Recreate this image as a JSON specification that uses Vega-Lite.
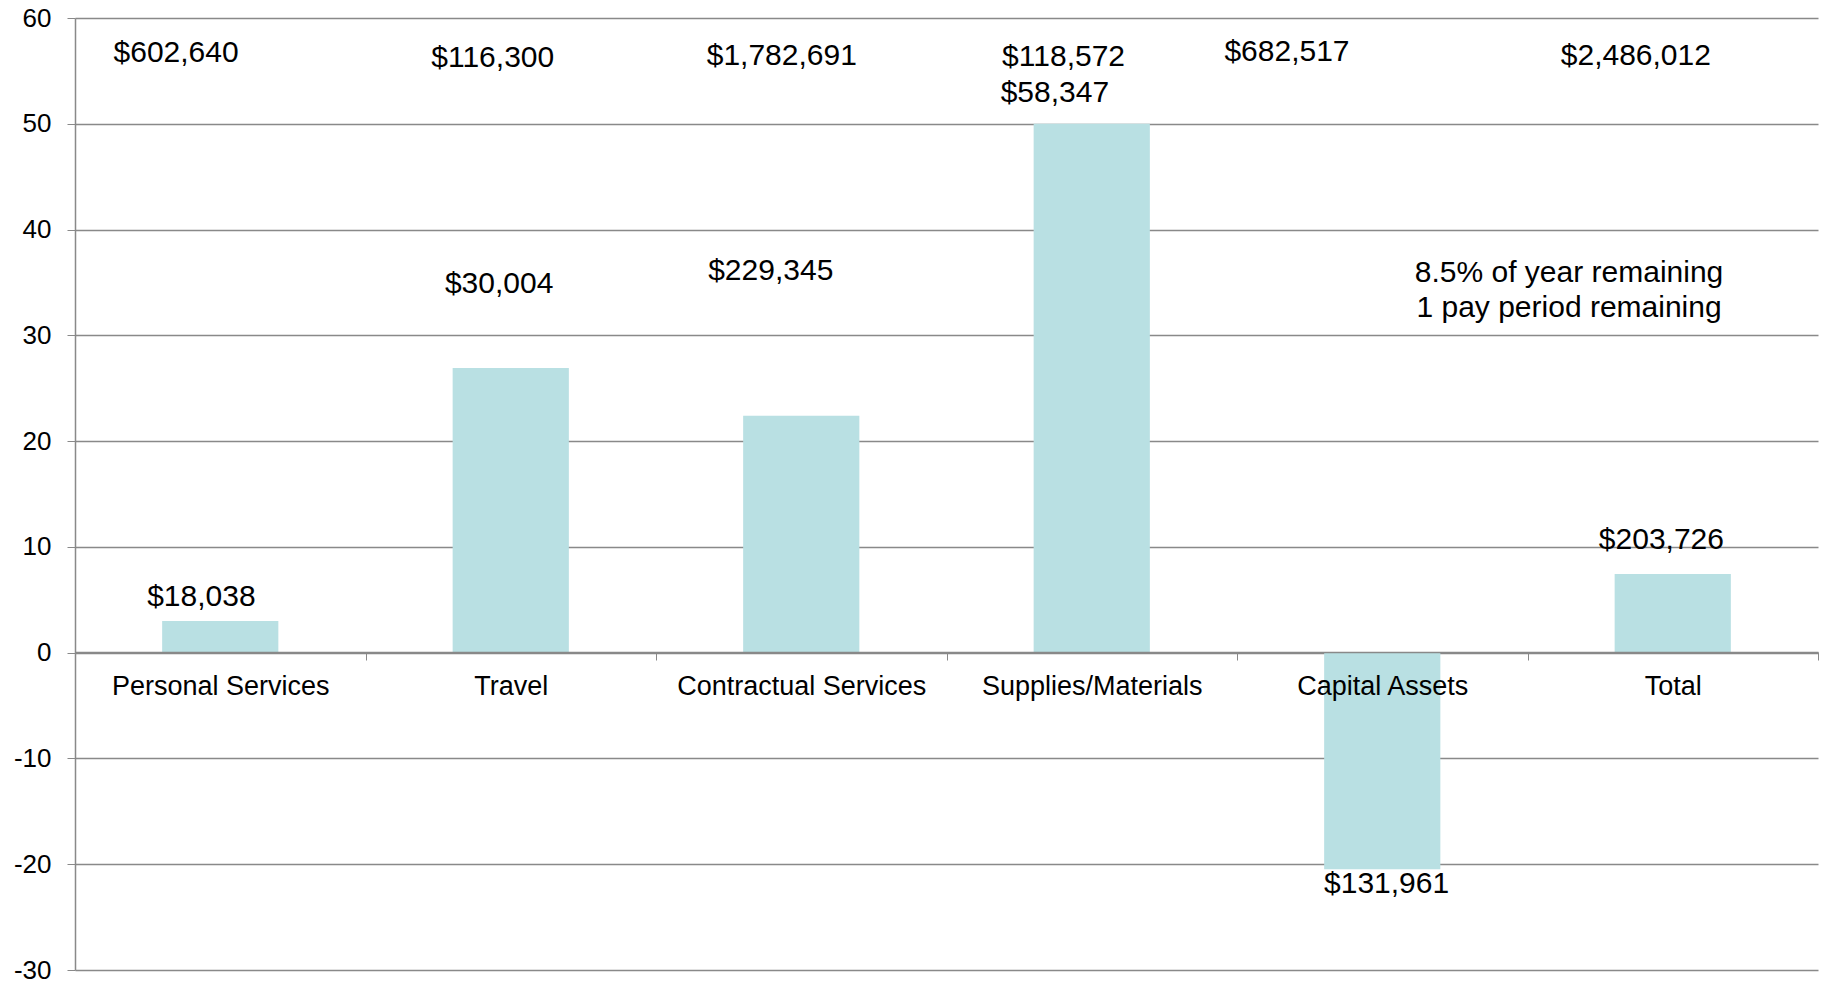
{
  "$schema": "https://vega.github.io/schema/vega-lite/v6.json",
  "width": 1743,
  "height": 952,
  "autosize": {"type": "none"},
  "padding": {"left": 75, "top": 18, "right": 8, "bottom": 14},
  "background": "white",
  "config": {
    "view": {"stroke": null},
    "font": "Liberation Sans",
    "text": {"font": "Liberation Sans", "color": "#000000"}
  },
  "datasets": {
    "bars": [
      {"category": "Personal Services", "value": 3.0},
      {"category": "Travel", "value": 26.9},
      {"category": "Contractual Services", "value": 22.4},
      {"category": "Supplies/Materials", "value": 50.0},
      {"category": "Capital Assets", "value": -20.47},
      {"category": "Total", "value": 7.43}
    ],
    "labels": [
      {"text": "$602,640", "lx": 0.348, "ly": 56.66},
      {"text": "$116,300", "lx": 1.438, "ly": 56.21},
      {"text": "$1,782,691", "lx": 2.433, "ly": 56.37},
      {"text": "$118,572", "lx": 3.403, "ly": 56.33},
      {"text": "$58,347", "lx": 3.373, "ly": 52.93},
      {"text": "$682,517", "lx": 4.172, "ly": 56.82},
      {"text": "$2,486,012", "lx": 5.373, "ly": 56.37},
      {"text": "$18,038", "lx": 0.435, "ly": 5.24},
      {"text": "$30,004", "lx": 1.46, "ly": 34.81},
      {"text": "$229,345", "lx": 2.395, "ly": 36.07},
      {"text": "$131,961", "lx": 4.515, "ly": -21.88},
      {"text": "$203,726", "lx": 5.461, "ly": 10.63},
      {"text": "8.5% of year remaining", "lx": 5.143, "ly": 35.92},
      {"text": "1 pay period remaining", "lx": 5.143, "ly": 32.62}
    ]
  },
  "layer": [
    {
      "data": {"name": "bars"},
      "mark": {"type": "bar", "color": "#b9e0e3", "width": {"band": 0.4}},
      "encoding": {
        "x": {
          "field": "category",
          "type": "nominal",
          "sort": null,
          "scale": {"paddingInner": 0, "paddingOuter": 0},
          "axis": {
            "title": null,
            "offset": -318,
            "labelAngle": 0,
            "labelFontSize": 27,
            "labelLimit": 0,
            "labelFont": "Liberation Sans",
            "labelColor": "#000000",
            "labelPadding": 13,
            "tickBand": "extent",
            "tickSize": 8,
            "tickColor": "#898989",
            "tickWidth": 1,
            "domainColor": "#898989",
            "domainWidth": 1.5,
            "grid": false,
            "zindex": 1
          }
        },
        "y": {
          "field": "value",
          "type": "quantitative",
          "scale": {"domain": [-30, 60], "nice": false, "zero": false},
          "axis": {
            "title": null,
            "values": [-30, -20, -10, 0, 10, 20, 30, 40, 50, 60],
            "labelExpr": "'' + datum.value",
            "labelFontSize": 26,
            "labelFont": "Liberation Sans",
            "labelColor": "#000000",
            "labelPadding": 16,
            "tickSize": 8,
            "tickColor": "#898989",
            "domainColor": "#898989",
            "domainWidth": 1.5,
            "grid": true,
            "gridColor": "#898989",
            "gridWidth": 1.3,
            "gridOpacity": 1,
            "zindex": 0
          }
        }
      }
    },
    {
      "data": {"name": "labels"},
      "mark": {"type": "text", "fontSize": 30, "baseline": "middle", "align": "center", "font": "Liberation Sans"},
      "encoding": {
        "x": {"field": "lx", "type": "quantitative", "scale": {"domain": [0, 6], "nice": false, "zero": false}, "axis": null},
        "y": {"field": "ly", "type": "quantitative"},
        "text": {"field": "text"}
      }
    }
  ],
  "resolve": {"scale": {"x": "independent"}}
}
